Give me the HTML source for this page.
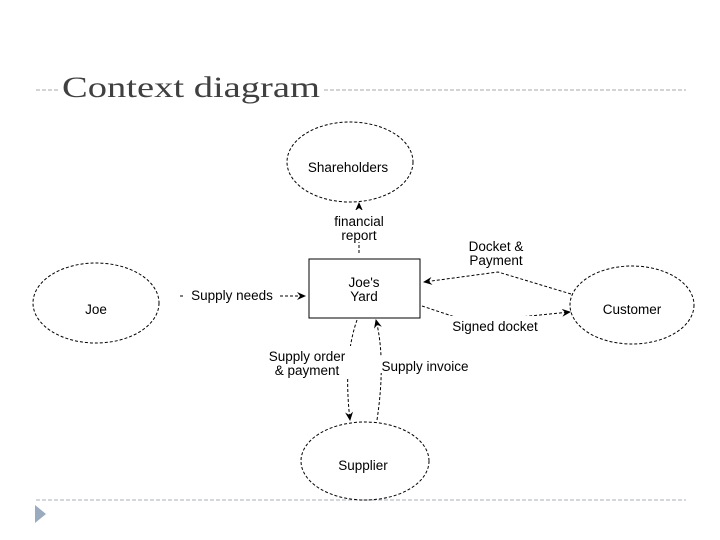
<!DOCTYPE html>
<html><head><style>
body{margin:0;width:720px;height:540px;background:#fff;overflow:hidden}
</style></head><body>
<svg width="720" height="540" xmlns="http://www.w3.org/2000/svg" style="position:absolute;left:0;top:0">
<defs><marker id="a" markerWidth="10" markerHeight="10" refX="8" refY="4" orient="auto" markerUnits="userSpaceOnUse"><path d="M0,0 L9,4 L0,8 L3,4 z" fill="#000"/></marker></defs>
<line x1="36" y1="90" x2="686" y2="90" stroke="#a8a8a8" stroke-dasharray="4,2"/>
<line x1="36" y1="500" x2="686" y2="500" stroke="#a8b0b8" stroke-dasharray="4,2"/>
<polygon points="35,505 46,514 35,523" fill="#9aabbf"/>
<rect x="60" y="70" width="262" height="30" fill="#fff"/>
<text x="62" y="97" font-family="Liberation Serif,serif" font-size="30" fill="#404040" textLength="258" lengthAdjust="spacingAndGlyphs">Context diagram</text>
<g fill="none" stroke="#000" stroke-width="1" stroke-dasharray="3,2">
<ellipse cx="350" cy="162" rx="63" ry="40"/>
<ellipse cx="96" cy="303" rx="63" ry="40"/>
<ellipse cx="632" cy="305" rx="62" ry="39"/>
<ellipse cx="365" cy="461" rx="64" ry="39"/>
<line x1="359" y1="253" x2="359" y2="203" marker-end="url(#a)"/>
<line x1="180" y1="296" x2="305" y2="296" marker-end="url(#a)"/>
<polyline points="571,294 498,272 424,282" marker-end="url(#a)"/>
<polyline points="422,306 470,322 570,312" marker-end="url(#a)"/>
<path d="M357,320 Q343,360 350,420" marker-end="url(#a)"/>
<path d="M377,420 Q386,360 376,320" marker-end="url(#a)"/>
</g>
<rect x="309" y="259" width="111" height="59" fill="none" stroke="#000"/>
<g font-family="Liberation Sans,sans-serif" font-size="13.5" fill="#000" text-anchor="middle">
<rect x="333" y="210" width="54" height="32" fill="#fff"/>
<rect x="185" y="287" width="94" height="16" fill="#fff"/>
<rect x="446" y="316" width="96" height="16" fill="#fff"/>
<rect x="262" y="346" width="90" height="32" fill="#fff"/>
<rect x="380" y="357" width="92" height="16" fill="#fff"/>
<text x="348" y="172">Shareholders</text>
<text x="359" y="226">financial</text>
<text x="359" y="240">report</text>
<text x="364" y="287">Joe's</text>
<text x="364" y="301">Yard</text>
<text x="96" y="314">Joe</text>
<text x="632" y="314">Customer</text>
<text x="363" y="470">Supplier</text>
<text x="232" y="300">Supply needs</text>
<text x="496" y="251">Docket &amp;</text>
<text x="496" y="265">Payment</text>
<text x="495" y="331">Signed docket</text>
<text x="307" y="361">Supply order</text>
<text x="307" y="375">&amp; payment</text>
<text x="425" y="371">Supply invoice</text>
</g>
</svg>
</body></html>
